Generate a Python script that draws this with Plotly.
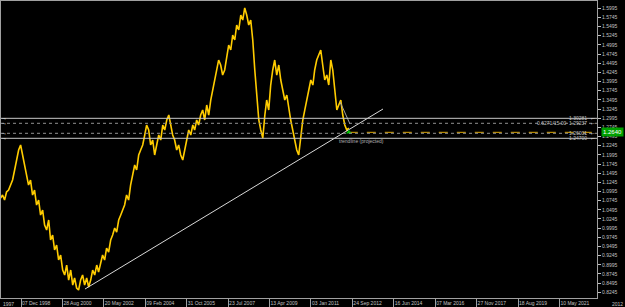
import plotly.graph_objects as go
import pandas as pd

# ---------------- data ----------------
start_month = "1998-02-01"
prices = [
    1.0817, 1.0899, 1.0762, 1.0981, 1.1035, 1.1171, 1.1308, 1.1581, 1.1854, 1.2126,
    1.2263, 1.1990, 1.1717, 1.1444, 1.1171, 1.1308, 1.0899, 1.1035, 1.0626, 1.0762,
    1.0353, 1.0490, 1.0080, 0.9944, 1.0217, 0.9671, 0.9808, 0.9399, 0.9535, 0.9126,
    0.9262, 0.8853, 0.8717, 0.8989, 0.8580, 0.8853, 0.8444, 0.8635, 0.8362, 0.8307,
    0.8580, 0.8717, 0.8444, 0.8635, 0.8389, 0.8580, 0.8853, 0.8717, 0.8989, 0.8798,
    0.9071, 0.9262, 0.9126, 0.9453, 0.9344, 0.9671, 0.9808, 0.9999, 0.9889, 1.0217,
    1.0353, 1.0490, 1.0626, 1.0899, 1.0762, 1.1171, 1.1444, 1.1717, 1.1581, 1.1990,
    1.2126, 1.2263, 1.2536, 1.2808, 1.2672, 1.2263, 1.2399, 1.1990, 1.2263, 1.2536,
    1.2399, 1.2808, 1.2672, 1.2945, 1.3081, 1.2808, 1.2536, 1.2399, 1.2126, 1.2263,
    1.1990, 1.1854, 1.2126, 1.2399, 1.2672, 1.2536, 1.2808, 1.2672, 1.2945, 1.2808,
    1.3081, 1.3217, 1.2945, 1.3354, 1.3081, 1.3490, 1.3763, 1.4036, 1.4309, 1.4581,
    1.4445, 1.4172, 1.4309, 1.4718, 1.4990, 1.4854, 1.5263, 1.5127, 1.5536, 1.5400,
    1.5809, 1.5672, 1.6000, 1.5809, 1.5536, 1.5672, 1.5127, 1.4309, 1.3490, 1.2945,
    1.2672, 1.2454, 1.3081, 1.3490, 1.3217, 1.3899, 1.4309, 1.4581, 1.4172, 1.4445,
    1.4036, 1.3763, 1.3490, 1.3627, 1.3217, 1.2945, 1.2672, 1.2399, 1.2126, 1.1990,
    1.2536, 1.2945, 1.3217, 1.3490, 1.3763, 1.4036, 1.3899, 1.4309, 1.4581, 1.4718,
    1.4854, 1.4445, 1.4036, 1.4172, 1.3899, 1.4581, 1.4309, 1.3763, 1.3217, 1.3354,
    1.3490, 1.3081, 1.2808, 1.2672, 1.2726,
]

tick_dates = ["1998-12-07", "2000-08-28", "2002-05-20", "2004-02-09", "2005-10-31",
              "2007-07-23", "2009-04-13", "2011-01-03", "2012-09-24", "2014-06-16",
              "2016-03-07", "2017-11-27", "2019-08-19", "2021-05-10"]
tick_labels = ["07 Dec 1998", "28 Aug 2000", "20 May 2002", "09 Feb 2004", "31 Oct 2005",
               "23 Jul 2007", "13 Apr 2009", "03 Jan 2011", "24 Sep 2012", "16 Jun 2014",
               "07 Mar 2016", "27 Nov 2017", "18 Aug 2019", "10 May 2021"]

price_ticks = [0.8245, 0.8495, 0.8745, 0.8995, 0.9245, 0.9495, 0.9745, 0.9995,
               1.0245, 1.0495, 1.0745, 1.0995, 1.1245, 1.1495, 1.1745, 1.1995,
               1.2245, 1.2495, 1.2745, 1.2995, 1.3245, 1.3495, 1.3745, 1.3995,
               1.4245, 1.4495, 1.4745, 1.4995, 1.5245, 1.5495, 1.5745, 1.5995]

trend_dates = ["2001-08-06", "2014-01-03"]
trend_prices = [0.8335, 1.3245]
down_dates = ["2012-03-20", "2012-08-19"]
down_prices = [1.3444, 1.2836]

level_prices = [1.2991, 1.2855, 1.2582, 1.2446]
level_labels = ["1.30281", "0.6271/15.00  1.29237", "1.26001", "1.24700"]
level_dash = ["solid", "dot", "dot", "solid"]

bid_price = 1.2609
bid_label = "1.2640"
bid_start = "2012-08-01"

# ---------------- figure ----------------
origin = pd.Timestamp("1998-12-07")
days_per_px = 15.21
x_left = origin - pd.Timedelta(days=20 * days_per_px)
x_right = origin + pd.Timedelta(days=576 * days_per_px)

dates = pd.date_range(start_month, periods=len(prices), freq="MS")

fig = go.Figure()
fig.add_trace(go.Scatter(x=dates, y=prices, mode="lines",
                         line=dict(color="#FFCC00", width=1.6), hoverinfo="skip"))
fig.add_trace(go.Scatter(x=trend_dates, y=trend_prices, mode="lines",
                         line=dict(color="#D8D8D8", width=1), hoverinfo="skip"))
fig.add_trace(go.Scatter(x=down_dates, y=down_prices, mode="lines",
                         line=dict(color="#A0A0A0", width=1), hoverinfo="skip"))
fig.add_trace(go.Scatter(x=[bid_start, x_right], y=[bid_price, bid_price], mode="lines",
                         line=dict(color="#E0A800", width=1, dash="dash"), hoverinfo="skip"))
fig.add_trace(go.Scatter(x=[bid_start], y=[bid_price], mode="markers",
                         marker=dict(symbol="triangle-up", size=5, color="#00C000"),
                         hoverinfo="skip"))

shapes = []
annotations = []
for p, lab, d in zip(level_prices, level_labels, level_dash):
    shapes.append(dict(type="line", xref="paper", x0=0, x1=1, yref="y", y0=p, y1=p,
                       line=dict(color="#C8C8C8" if d == "solid" else "#909090",
                                 width=1, dash=d)))
    annotations.append(dict(xref="paper", x=0.986, yref="y", y=p, text=lab,
                            xanchor="right", yanchor="middle", showarrow=False,
                            font=dict(size=5, color="#C0C0C0")))
    annotations.append(dict(xref="paper", x=0.994, yref="y", y=p, text="\u2190",
                            xanchor="center", yanchor="middle", showarrow=False,
                            font=dict(size=6, color="#FFFFFF")))
    annotations.append(dict(xref="paper", x=0.005, yref="y", y=p, text="\u2192",
                            xanchor="center", yanchor="middle", showarrow=False,
                            font=dict(size=6, color="#FFFFFF")))

annotations.append(dict(xref="paper", x=1.006, yref="y", y=bid_price, text=bid_label,
                        xanchor="left", yanchor="middle", showarrow=False,
                        bgcolor="#00A000", font=dict(size=6, color="#FFFFFF"),
                        borderpad=1))
annotations.append(dict(xref="x", x="2012-02-01", yref="y", y=1.2380,
                        text="trendline (projected)", xanchor="left", yanchor="middle",
                        showarrow=False, font=dict(size=5, color="#B0B0B0")))
annotations.append(dict(xref="paper", x=0.0, yref="paper", y=-0.005, text="1997",
                        xanchor="left", yanchor="top", showarrow=False,
                        font=dict(size=5, color="#C0C0C0")))
annotations.append(dict(xref="paper", x=1.021, yref="paper", y=-0.005, text="2012",
                        xanchor="left", yanchor="top", showarrow=False,
                        font=dict(size=5, color="#C0C0C0")))

fig.update_layout(
    width=625, height=307,
    margin=dict(l=1, r=28, t=1, b=9),
    paper_bgcolor="#000000", plot_bgcolor="#000000",
    showlegend=False,
    shapes=shapes, annotations=annotations,
    font=dict(family="Liberation Sans, Arial", size=5, color="#C0C0C0"),
    xaxis=dict(type="date", range=[x_left, x_right], showgrid=False, zeroline=False,
               tickvals=tick_dates, ticktext=tick_labels,
               ticks="outside", ticklen=8, tickcolor="#A0A0A0", tickwidth=1,
               ticklabelposition="outside right",
               tickfont=dict(size=5, color="#C0C0C0"),
               showline=True, linecolor="#A0A0A0", linewidth=1, mirror=True),
    yaxis=dict(side="right", range=[0.8090, 1.6191], showgrid=False, zeroline=False,
               tickvals=price_ticks, tickformat=".4f",
               ticks="outside", ticklen=3, tickcolor="#C0C0C0",
               tickfont=dict(size=5, color="#C0C0C0"),
               showline=True, linecolor="#A0A0A0", linewidth=1, mirror=True),
)

fig.write_html("out.html")
